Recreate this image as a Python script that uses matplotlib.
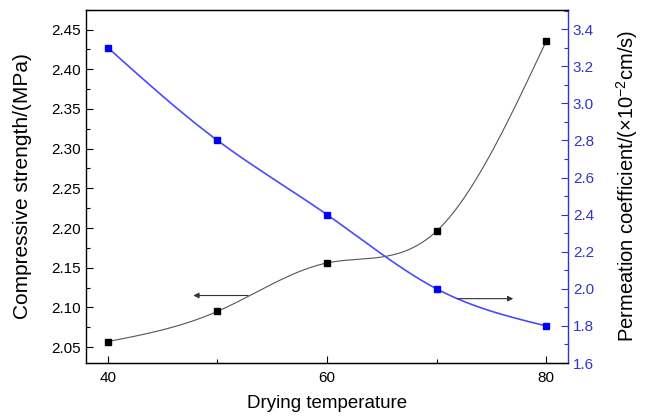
import numpy as np
import matplotlib
matplotlib.use("Agg")
import matplotlib.pyplot as plt
from matplotlib.ticker import MultipleLocator, FormatStrFormatter

plt.rcParams['font.family'] = ['Liberation Sans', 'DejaVu Sans']
plt.rcParams['mathtext.fontset'] = 'custom'
plt.rcParams['mathtext.rm'] = 'Liberation Sans'

temperature = [40, 50, 60, 70, 80]
strength = [2.057, 2.095, 2.156, 2.196, 2.435]
permeation = [3.30, 2.80, 2.40, 2.00, 1.80]


def natural_spline(x, y, n=200):
    # natural cubic spline through the points, no scipy needed
    x = np.asarray(x, float)
    y = np.asarray(y, float)
    k = len(x)
    h = np.diff(x)
    A = np.zeros((k, k))
    b = np.zeros(k)
    A[0, 0] = A[-1, -1] = 1
    for i in range(1, k - 1):
        A[i, i - 1] = h[i - 1]
        A[i, i] = 2 * (h[i - 1] + h[i])
        A[i, i + 1] = h[i]
        b[i] = 3 * ((y[i + 1] - y[i]) / h[i] - (y[i] - y[i - 1]) / h[i - 1])
    c = np.linalg.solve(A, b)
    xs = np.linspace(x[0], x[-1], n)
    ys = np.empty_like(xs)
    for j, xv in enumerate(xs):
        i = min(np.searchsorted(x, xv, side='right') - 1, k - 2)
        dx = xv - x[i]
        bi = (y[i + 1] - y[i]) / h[i] - h[i] * (2 * c[i] + c[i + 1]) / 3
        di = (c[i + 1] - c[i]) / (3 * h[i])
        ys[j] = y[i] + bi * dx + c[i] * dx ** 2 + di * dx ** 3
    return xs, ys


fig = plt.figure(figsize=(6.45, 4.2), dpi=100)
ax = fig.add_axes([0.1333, 0.1357, 0.7473, 0.8413])
ax2 = ax.twinx()

xs, ys = natural_spline(temperature, strength)
ax.plot(xs, ys, color='#555555', lw=0.8)
ax.plot(temperature, strength, 's', color='black', ms=5, ls='none')

xs, ys = natural_spline(temperature, permeation)
ax2.plot(xs, ys, color='#4a4aff', lw=1.2)
ax2.plot(temperature, permeation, 's', color='#0000ff', ms=5, ls='none')

ax.set_xlim(38, 82)
ax.set_ylim(2.03, 2.475)
ax2.set_ylim(1.6, 3.505)

ax.xaxis.set_major_locator(MultipleLocator(20))
ax.xaxis.set_minor_locator(MultipleLocator(10))
ax.yaxis.set_major_locator(MultipleLocator(0.05))
ax.yaxis.set_minor_locator(MultipleLocator(0.025))
ax2.yaxis.set_major_locator(MultipleLocator(0.2))
ax2.yaxis.set_minor_locator(MultipleLocator(0.1))
ax.yaxis.set_major_formatter(FormatStrFormatter('%.2f'))
ax2.yaxis.set_major_formatter(FormatStrFormatter('%.1f'))

ax.tick_params(which='both', direction='in', labelsize=11, width=0.8)
ax.tick_params(which='major', length=5)
ax.tick_params(which='minor', length=3)
ax.tick_params(axis='x', pad=6)
ax2.tick_params(which='both', direction='in', labelsize=11, width=0.8,
                colors='#3333cc', labelcolor='#3333cc')
ax2.tick_params(which='major', length=5)
ax2.tick_params(which='minor', length=3)
ax2.spines['right'].set_color('#3333cc')
ax2.spines['right'].set_linewidth(1.0)
for s in ['left', 'top', 'bottom']:
    ax.spines[s].set_linewidth(1.0)
ax2.spines['left'].set_visible(False)
ax.spines['right'].set_visible(False)

ax.set_xlabel('Drying temperature', fontsize=13.5)
ax.set_ylabel('Compressive strength/(MPa)', fontsize=15)
ax2.set_ylabel('Permeation coefficient/(×10$^{-2}$cm/s)', fontsize=14.5,
               rotation=90)
ax.xaxis.set_label_coords(0.5, -0.115, transform=ax.transAxes)
ax.xaxis.label.set_va('center')
ax.yaxis.set_label_coords(-0.131, 0.5)
ax.yaxis.label.set_va('center')
ax2.yaxis.set_label_coords(1.122, 0.5)
ax2.yaxis.label.set_va('center')

# direction arrows
ax.annotate('', xy=(47.8, 2.115), xytext=(52.8, 2.115),
            arrowprops=dict(arrowstyle='-|>', color='#333333', lw=0.8,
                            mutation_scale=8, shrinkA=0, shrinkB=0))
ax2.annotate('', xy=(77.0, 1.947), xytext=(71.9, 1.947),
             arrowprops=dict(arrowstyle='-|>', color='#333333', lw=0.8,
                             mutation_scale=8, shrinkA=0, shrinkB=0))

fig.savefig('out.png', dpi=100, facecolor='white')
